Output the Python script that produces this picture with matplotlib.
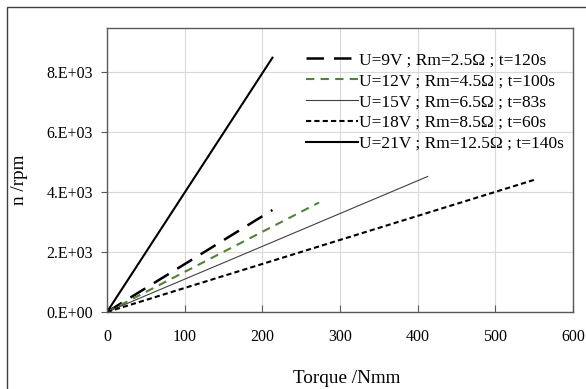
import matplotlib
matplotlib.use("Agg")
import matplotlib.pyplot as plt
from matplotlib.patches import Rectangle
from matplotlib.ticker import FuncFormatter

# end points, every line starts at the origin
torque_9v = [0, 213]
speed_9v = [0, 3400]
torque_12v = [0, 273]
speed_12v = [0, 3650]
torque_15v = [0, 413]
speed_15v = [0, 4520]
torque_18v = [0, 553]
speed_18v = [0, 4430]
torque_21v = [0, 213]
speed_21v = [0, 8480]

labels = [
    "U=9V ; Rm=2.5Ω ; t=120s",
    "U=12V ; Rm=4.5Ω ; t=100s",
    "U=15V ; Rm=6.5Ω ; t=83s",
    "U=18V ; Rm=8.5Ω ; t=60s",
    "U=21V ; Rm=12.5Ω ; t=140s",
]
xticks = [0, 100, 200, 300, 400, 500, 600]
yticks = [0, 2000, 4000, 6000, 8000]

plt.rcParams['font.family'] = ['Liberation Serif', 'Noto Sans CJK SC']

fig = plt.figure(figsize=(5.86, 3.89), dpi=100)
ax = fig.add_axes([107 / 586, 1 - 312 / 389, (573 - 107) / 586, (312 - 28) / 389])

# outer frame of the chart area (cropped at right/bottom)
fig.patches.append(Rectangle((7 / 586, -0.1), 1.2, 1 - 7 / 389 + 0.1,
                             transform=fig.transFigure, fill=False,
                             edgecolor='#404040', linewidth=1.0))

ax.plot(torque_9v, speed_9v, color='black', lw=1.8, dashes=(7, 4), label=labels[0])
ax.plot(torque_12v, speed_12v, color='#548235', lw=1.5, dashes=(4, 3), label=labels[1])
ax.plot(torque_15v, speed_15v, color='#404040', lw=0.8, label=labels[2])
ax.plot(torque_18v, speed_18v, color='black', lw=1.5, dashes=(2.5, 1.5), label=labels[3])
ax.plot(torque_21v, speed_21v, color='black', lw=1.5, label=labels[4])

ax.set_xlim(0, 600)
ax.set_ylim(0, 9470)
ax.set_xticks(xticks)
ax.set_yticks(yticks)
ax.yaxis.set_major_formatter(FuncFormatter(lambda v, p: "%d.E+03" % (v / 1000) if v else "0.E+00"))
ax.grid(True, color='#d9d9d9', lw=0.8)
ax.set_axisbelow(True)
for s in ax.spines.values():
    s.set_color('#595959')
    s.set_linewidth(1.0)
ax.tick_params(axis='x', direction='in', length=5, labelsize=11.5, pad=12, color='#595959')
ax.tick_params(axis='y', direction='out', length=4, labelsize=11.5, pad=6, color='#595959')

ax.set_xlabel("Torque /Nmm", fontsize=13.8)
ax.xaxis.set_label_coords(0.514, -0.205)
ax.set_ylabel("n /rpm", fontsize=13.8)
ax.yaxis.set_label_coords(-0.17, 0.465)

ax.legend(loc='upper right', bbox_to_anchor=(1.0, 0.945), frameon=False, fontsize=12.5,
          handlelength=3.0, handletextpad=0.1, labelspacing=0.27, borderaxespad=0.1)

fig.savefig("out.png", dpi=100)
